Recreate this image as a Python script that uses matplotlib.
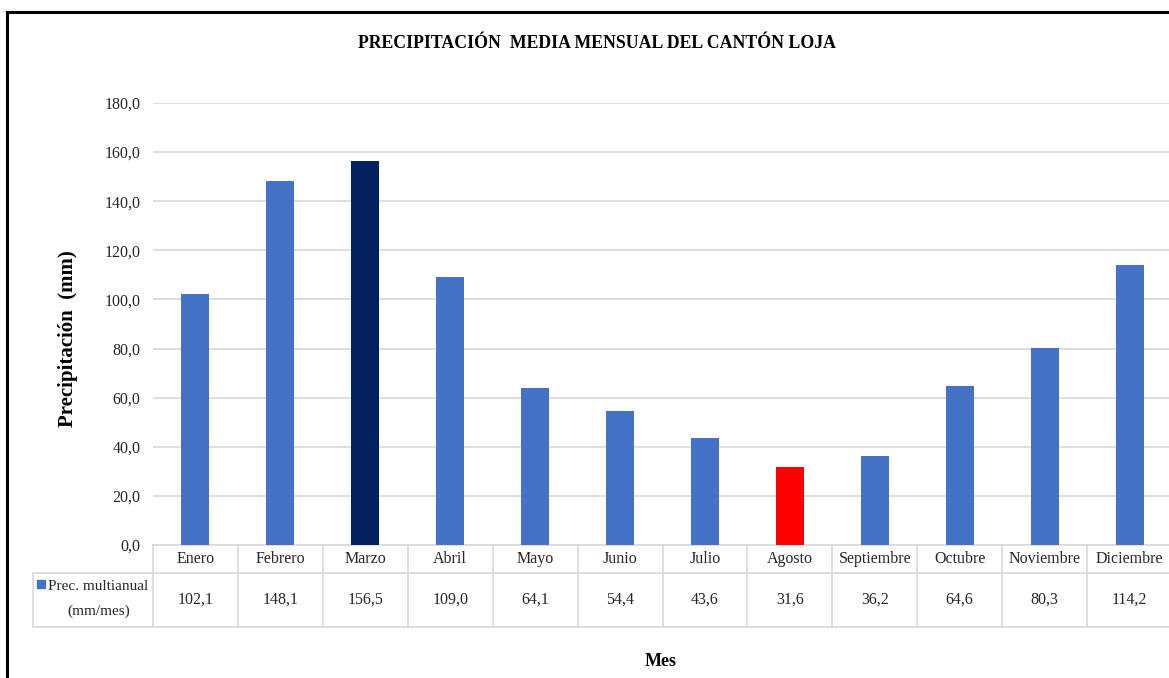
import matplotlib
matplotlib.use("Agg")
import matplotlib.pyplot as plt
from matplotlib.lines import Line2D
from matplotlib.patches import Rectangle

# Monthly mean precipitation, Cantón Loja
meses = ["Enero", "Febrero", "Marzo", "Abril", "Mayo", "Junio", "Julio",
         "Agosto", "Septiembre", "Octubre", "Noviembre", "Diciembre"]
precipitacion = [102.1, 148.1, 156.5, 109.0, 64.1, 54.4, 43.6,
                 31.6, 36.2, 64.6, 80.3, 114.2]
yticks = [0, 20, 40, 60, 80, 100, 120, 140, 160, 180]

AZUL = "#4472C4"
AZUL_OSCURO = "#002060"
ROJO = "#FF0000"
GRIS = "#D9D9D9"
TEXTO = "#262626"
colores = [AZUL] * len(meses)
colores[meses.index("Marzo")] = AZUL_OSCURO
colores[meses.index("Agosto")] = ROJO

plt.rcParams["font.family"] = ["Liberation Serif", "DejaVu Serif"]

W, H = 1169, 678
fig = plt.figure(figsize=(W / 100, H / 100), dpi=100)


def fx(px):
    return px / W


def fy(py):
    return 1 - py / H


# plot area in pixel units
x0, x1 = 153, 1172
y_top, y_bot = 103, 545
ax = fig.add_axes([fx(x0), fy(y_bot), fx(x1 - x0), (y_bot - y_top) / H])
n = len(meses)
pos = list(range(n))
ax.bar(pos, precipitacion, width=0.33, color=colores, zorder=3)
ax.set_xlim(-0.5, n - 0.5)
ax.set_ylim(0, 180)
ax.set_yticks(yticks)
ax.set_yticklabels([f"{v:.1f}".replace(".", ",") for v in yticks],
                   fontsize=11.5, color=TEXTO)
ax.tick_params(axis="y", length=0, pad=9)
ax.set_xticks([])
ax.grid(axis="y", color=GRIS, linewidth=1.2, zorder=0)
for s in ["top", "right", "left"]:
    ax.spines[s].set_visible(False)
ax.spines["bottom"].set_color(GRIS)
ax.spines["bottom"].set_linewidth(1.2)
ax.set_facecolor("none")

# data table under the axis
col_w = (x1 - x0) / n
y_hdr = 573
y_row = 627
x_leg = 33
lw = 1.2
lines = [
    ((x_leg, x1), (y_hdr, y_hdr)),
    ((x_leg, x1), (y_row, y_row)),
    ((x_leg, x_leg), (y_hdr, y_row)),
]
for i in range(n + 1):
    xc = x0 + i * col_w
    lines.append(((xc, xc), (y_bot, y_row)))
for (xs, ys) in lines:
    fig.add_artist(Line2D([fx(v) for v in xs], [fy(v) for v in ys],
                          color=GRIS, linewidth=lw))

for i, (m, v) in enumerate(zip(meses, precipitacion)):
    xc = x0 + (i + 0.5) * col_w
    fig.text(fx(xc), fy(559), m, ha="center", va="center",
             fontsize=11.5, color=TEXTO)
    fig.text(fx(xc), fy(600), f"{v:.1f}".replace(".", ","), ha="center",
             va="center", fontsize=11.5, color=TEXTO)

# legend key inside the table
fig.add_artist(Rectangle((fx(37), fy(588)), fx(8), 8 / H, color=AZUL,
                         transform=fig.transFigure))
fig.text(fx(48), fy(586), "Prec. multianual", ha="left", va="center",
         fontsize=11, color=TEXTO)
fig.text(fx(99), fy(611), "(mm/mes)", ha="center", va="center",
         fontsize=11, color=TEXTO)

# titles
fig.text(fx(597), fy(44), "PRECIPITACIÓN  MEDIA MENSUAL DEL CANTÓN LOJA",
         ha="center", va="center", fontsize=12.8, fontweight="bold")
fig.text(fx(68), fy(339), "Precipitación  (mm)", rotation=90, ha="center",
         va="center", fontsize=15, fontweight="bold")
fig.text(fx(661), fy(662), "Mes", ha="center", va="center",
         fontsize=13, fontweight="bold")

# frame edges
fig.add_artist(Line2D([fx(7), 1.0], [fy(12), fy(12)], color="black",
                      linewidth=2.2))
fig.add_artist(Line2D([fx(7), fx(7)], [fy(12), 0.0], color="black",
                      linewidth=2.2))

fig.savefig("out.png", dpi=100)
